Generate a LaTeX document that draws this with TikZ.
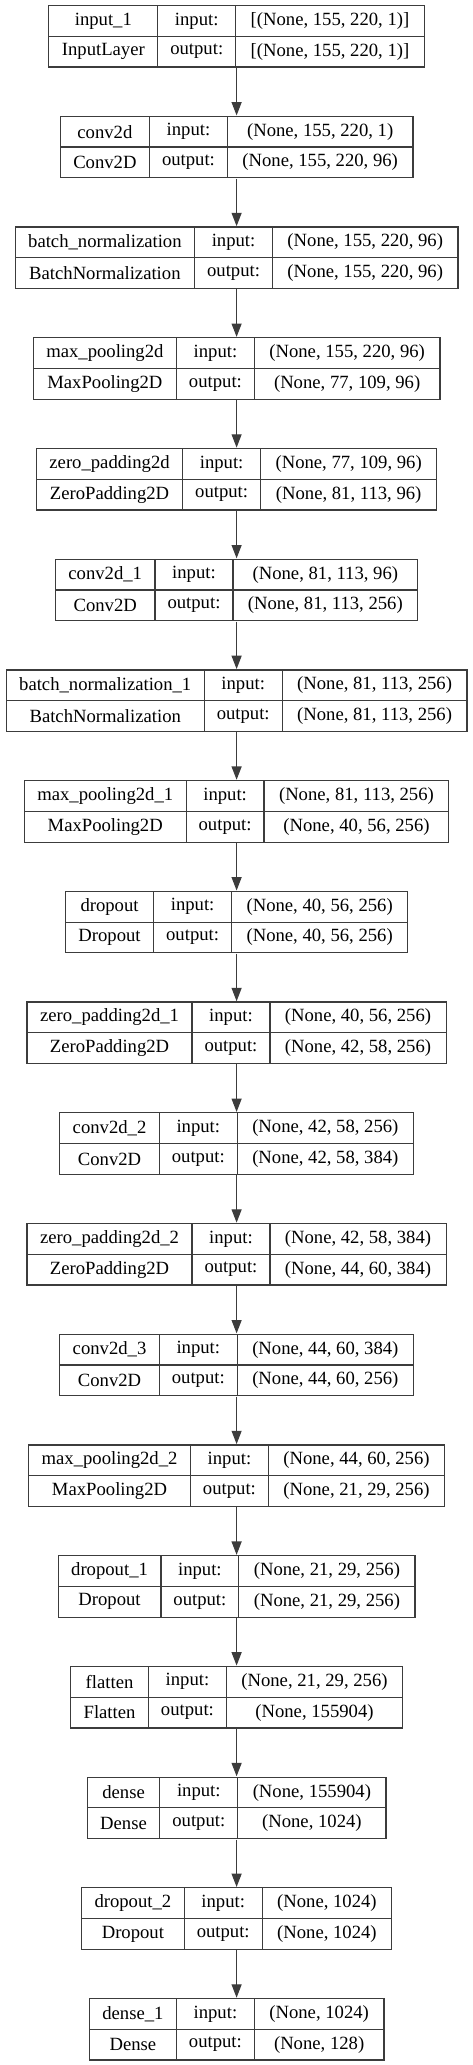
\documentclass[tikz,border=0pt]{standalone}
\usepackage{fontspec}
\setmainfont{Liberation Serif}
\usetikzlibrary{arrows.meta,fit}

\definecolor{boxgray}{HTML}{3C3C3C}
\font\cellfnt="Liberation Serif" at 14pt
\newdimen\wname \newdimen\wclass \newdimen\win \newdimen\wout \newdimen\wlbl

\tikzset{
	cell/.style={draw=boxgray, line width=0.9pt, inner sep=0pt, minimum height=23.06pt, anchor=north west, font=\cellfnt},
	link/.style={draw=boxgray, line width=0.85pt, -{Triangle[length=10pt,width=7.5pt]}}
}

% width of a text in the cell font
\newcommand{\measure}[2]{\setbox0=\hbox{\cellfnt #2}\global#1=\wd0\relax}

% one layer box: id, name, class, input shape, output shape, row number
\newcommand{\layer}[6]{%
	\measure\wname{#2}\measure\wclass{#3}%
	\measure\win{#4}\measure\wout{#5}%
	\measure\wlbl{output:}%
	\pgfmathsetmacro\colA{max(\the\wname,\the\wclass)+19.5}%
	\pgfmathsetmacro\colB{\the\wlbl+18.75}%
	\pgfmathsetmacro\colC{max(\the\win,\the\wout)+22.5}%
	\pgfmathsetmacro\lft{177-(\colA+\colB+\colC)/2}%
	\pgfmathsetmacro\midA{\lft+\colA}%
	\pgfmathsetmacro\midB{\midA+\colB}%
	\pgfmathsetmacro\rowtop{-3.75-(#6-1)*83.04}%
	\pgfmathsetmacro\rowmid{\rowtop-23.06}%
	\node[cell, minimum width=\colA pt] (#1-name) at (\lft pt,\rowtop pt) {#2};
	\node[cell, minimum width=\colA pt] (#1-class) at (\lft pt,\rowmid pt) {#3};
	\node[cell, minimum width=\colB pt] (#1-inl) at (\midA pt,\rowtop pt) {input:};
	\node[cell, minimum width=\colB pt] (#1-outl) at (\midA pt,\rowmid pt) {output:};
	\node[cell, minimum width=\colC pt] (#1-inv) at (\midB pt,\rowtop pt) {#4};
	\node[cell, minimum width=\colC pt] (#1-outv) at (\midB pt,\rowmid pt) {#5};
	\node[fit=(#1-name)(#1-outv), inner sep=0pt] (#1) {};
}

\begin{document}
\begin{tikzpicture}
	
	\useasboundingbox (0,0) rectangle (354pt,-1548.75pt);
	
	% Layers
	\layer{input}{input\_1}{InputLayer}{[(None, 155, 220, 1)]}{[(None, 155, 220, 1)]}{1}
	\layer{conv}{conv2d}{Conv2D}{(None, 155, 220, 1)}{(None, 155, 220, 96)}{2}
	\layer{bnorm}{batch\_normalization}{BatchNormalization}{(None, 155, 220, 96)}{(None, 155, 220, 96)}{3}
	\layer{pool}{max\_pooling2d}{MaxPooling2D}{(None, 155, 220, 96)}{(None, 77, 109, 96)}{4}
	\layer{zpad}{zero\_padding2d}{ZeroPadding2D}{(None, 77, 109, 96)}{(None, 81, 113, 96)}{5}
	\layer{convA}{conv2d\_1}{Conv2D}{(None, 81, 113, 96)}{(None, 81, 113, 256)}{6}
	\layer{bnormA}{batch\_normalization\_1}{BatchNormalization}{(None, 81, 113, 256)}{(None, 81, 113, 256)}{7}
	\layer{poolA}{max\_pooling2d\_1}{MaxPooling2D}{(None, 81, 113, 256)}{(None, 40, 56, 256)}{8}
	\layer{drop}{dropout}{Dropout}{(None, 40, 56, 256)}{(None, 40, 56, 256)}{9}
	\layer{zpadA}{zero\_padding2d\_1}{ZeroPadding2D}{(None, 40, 56, 256)}{(None, 42, 58, 256)}{10}
	\layer{convB}{conv2d\_2}{Conv2D}{(None, 42, 58, 256)}{(None, 42, 58, 384)}{11}
	\layer{zpadB}{zero\_padding2d\_2}{ZeroPadding2D}{(None, 42, 58, 384)}{(None, 44, 60, 384)}{12}
	\layer{convC}{conv2d\_3}{Conv2D}{(None, 44, 60, 384)}{(None, 44, 60, 256)}{13}
	\layer{poolB}{max\_pooling2d\_2}{MaxPooling2D}{(None, 44, 60, 256)}{(None, 21, 29, 256)}{14}
	\layer{dropA}{dropout\_1}{Dropout}{(None, 21, 29, 256)}{(None, 21, 29, 256)}{15}
	\layer{flat}{flatten}{Flatten}{(None, 21, 29, 256)}{(None, 155904)}{16}
	\layer{dense}{dense}{Dense}{(None, 155904)}{(None, 1024)}{17}
	\layer{dropB}{dropout\_2}{Dropout}{(None, 1024)}{(None, 1024)}{18}
	\layer{denseA}{dense\_1}{Dense}{(None, 1024)}{(None, 128)}{19}
	
	% Arrows between layers
	\foreach \a/\b in {input/conv, conv/bnorm, bnorm/pool, pool/zpad, zpad/convA, convA/bnormA, bnormA/poolA, poolA/drop, drop/zpadA, zpadA/convB, convB/zpadB, zpadB/convC, convC/poolB, poolB/dropA, dropA/flat, flat/dense, dense/dropB, dropB/denseA}
		\draw[link] (\a) -- (\b);
	
\end{tikzpicture}
\end{document}
